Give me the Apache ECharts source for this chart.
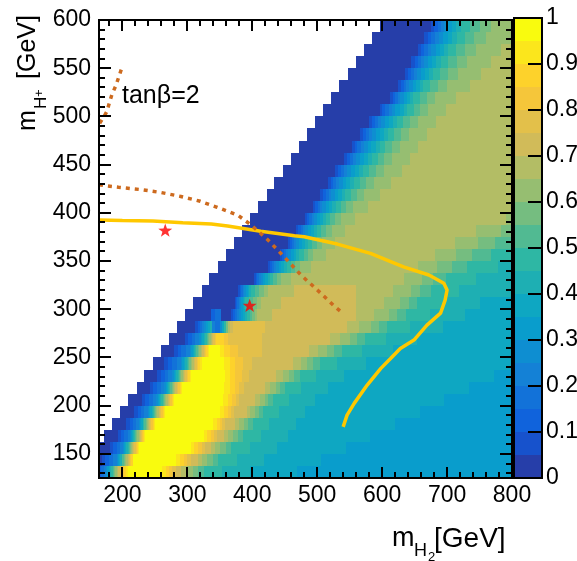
<!DOCTYPE html>
<html><head><meta charset="utf-8">
<script src="https://cdn.jsdelivr.net/npm/echarts@6/dist/echarts.min.js"></script>
<style>html,body{margin:0;padding:0;background:#fff}#c{width:577px;height:561px}</style>
</head><body><div id="c"></div>
<script>
// ---------- axis ranges & tick labels ----------
const X_MIN = 164, X_MAX = 800, Y_MIN = 125, Y_MAX = 600;
const xTicks = [200, 300, 400, 500, 600, 700, 800];
const xMinor = [180,220,240,260,280,320,340,360,380,420,440,460,480,520,540,560,580,620,640,660,680,720,740,760,780];
const yTicks = [150, 200, 250, 300, 350, 400, 450, 500, 550, 600];
const yMinor = [130,140,160,170,180,190,210,220,230,240,260,270,280,290,310,320,330,340,360,370,380,390,410,420,430,440,460,470,480,490,510,520,530,540,560,570,580,590];
const zTicks = [0, 0.1, 0.2, 0.3, 0.4, 0.5, 0.6, 0.7, 0.8, 0.9, 1];

// ---------- heat map, read row by row: [level, x_end, level, x_end, ...]; level -1 = empty ----------
const yEdges = [125,137.5,150,162.5,175,187.5,200,212.5,225,237.5,250,262.5,275,287.5,300,312.5,325,337.5,350,362.5,375,387.5,400,412.5,425,437.5,450,462.5,475,487.5,500,512.5,525,537.5,550,562.5,575,587.5,600];
const cellRows = [
 [2,167,3,172,4,175,5,177,6,179,7,181,8,183,9,185,10,187,11,189,12,191,13,193,14,196,15,199,16,202,17,205,18,208,19,261,18,267,17,272,16,277,15,282,14,290,13,300,12,309,11,317,10,326,9,354,8,396,7,469,6,800],
 [0,169,1,174,2,180,3,185,4,191,5,193,6,195,7,197,8,199,9,200,10,202,11,204,12,206,13,208,14,210,15,212,16,214,17,216,18,217,19,283,18,289,17,295,16,300,15,306,14,316,13,322,12,331,11,339,10,348,9,376,8,418,7,506,6,800],
 [0,181,1,186,2,191,3,196,4,201,5,203,6,204.5,7,206,8,208,9,210,10,211.5,11,213,12,215,13,217,14,218.5,15,220.5,16,222.5,17,224,18,226,19,305,18,311,17,317,16,322,15,327,14,337,13,343,12,351,11,359,10,368,9,396,8,438,7,544,6,800],
 [-1,172,0,194,1,198.6,2,203,3,208,4,212.5,5,214,6,215.5,7,217,8,218.5,9,220,10,221.5,11,223,12,225,13,226.5,14,228,15,230,16,231.5,17,233,18,235,19,325,18,331,17,336,16,341,15,345,14,356,13,362,12,370,11,378,10,386,9,413,8,455,7,582,6,800],
 [-1,184,0,206,1,211,2,216,3,221,4,226,5,227.5,6,229,7,231,8,232.5,9,234,10,236,11,237.5,12,239,13,241,14,243,15,244.5,16,246.5,17,248,18,250,19,339,18,345,17,350,16,354,15,358,14,374,13,380,12,387,11,394,10,401,9,426,8,467,7,620,6,800],
 [-1,197,0,218,1,223.5,2,229,3,234,4,239.5,5,241,6,243,7,245,8,246.5,9,248,10,250,11,252,12,254,13,256,14,258,15,260,16,262,17,264,18,266,19,350,18,357,17,363,16,368,15,372,14,392,13,397,12,404,11,410,10,417,9,441,8,481,7,658,6,800],
 [-1,209,0,230,1,235.5,2,241,3,247,4,252.5,5,254.5,6,256,7,258,8,260,9,262,10,264,11,266,12,267.5,13,269.5,14,271.5,15,274,16,276,17,278,18,280,19,355,18,362,17,369,16,375,15,380,14,405,13,412,12,419,11,425,10,432,9,456,8,496,7,696,6,800],
 [-1,222,0,242,1,247.5,2,253,3,259,4,264.5,5,266.5,6,268,7,270,8,272,9,274,10,276,11,278,12,279.5,13,281.5,14,283.5,15,286,16,288,17,290,18,292,19,357,18,365,17,373,16,380,15,388,14,420,13,428,12,436,11,443,10,451,9,475,8,516,7,734,6,800],
 [-1,234,0,253,1,259,2,265,3,271,4,277,5,279,6,281,7,283,8,285,9,287,10,289,11,291,12,293,13,295,14,297,15,299.5,16,301.5,17,304,18,306,19,358,18,366,17,374,16,384,15,395,14,436,13,447,12,456,11,464,10,473,9,498,8,541,7,772,6,800],
 [-1,247,0,264,1,270.5,2,277,3,283.5,4,290,5,292,6,294.5,7,296.5,8,299,9,301,10,303,11,305,12,307.5,13,310,14,312,15,315,16,317,17,319.5,18,322,19,357,18,365,17,373,16,385,15,400,14,462,13,475,12,485,11,494,10,504,9,530,8,575,7,800],
 [-1,259,0,279,1,285,2,291,3,298,4,304,5,306,6,308,7,310,8,312,9,314,10,316,11,318.5,12,320.5,13,323,14,325,15,327.5,16,329.5,17,332,18,334,19,350,18,357,17,366,16,378,15,415,14,488,13,502,12,515,11,526,10,538,9,569,8,617,7,800],
 [-1,272,0,296,1,301.5,2,307,3,312.5,4,318,5,320.5,6,323,7,325.5,8,328,9,330,10,332,11,334,12,336,13,338,14,340,15,342,16,344,17,356,16,362,15,415,14,520,13,535,12,550,11,561,10,573,9,606,8,654,7,800],
 [-1,284,0,312,1,316,2,320,3,323,4,326,5,329,6,332,7,335,8,338,4,342,3,350,5,353,7,356,9,359,11,362,13,366,14,370,15,420,14,546,13,565,12,583,11,595,10,608,9,643,8,693,7,800],
 [-1,297,0,336,2,343,3,352,0,368,1,371,2,374,3,377,4,380,5,383,6,386,7,389,8,392,9,396,10,400,11,404,12,408,13,430,14,559,13,588,12,610,11,623,10,636,9,674,8,727,7,800],
 [-1,309,0,373,1,375,2,377,3,379,4,381,5,383,6,385,7,387,8,389,9,395,10,401,11,407,12,413,13,444,14,559,13,603,12,628,11,641,10,654,9,695,8,751,7,800],
 [-1,322,0,378,1,380.5,2,383,3,385.5,4,388,5,390.5,6,393,7,395.5,8,398,9,404.5,10,411,11,417.5,12,424,13,465,14,559,13,617,12,644,11,659,10,675,9,718,8,800],
 [-1,334,0,403,1,405.5,2,408,3,410.5,4,413,5,416.5,6,420,7,423.5,8,427,9,432,10,437.5,11,444,12,460,13,633,12,661,11,679,10,699,9,744,8,800],
 [-1,347,0,425,1,428,2,431,3,434,4,437,5,441,6,445,7,449,8,453,9,459,10,465.5,11,473,12,490,13,655,12,685,11,707,10,731,9,779,8,800],
 [-1,359,0,443,1,446,2,449.5,3,452.5,4,455.5,5,460,6,464,7,468,8,472.5,9,479,10,486,11,494,12,513,13,682,12,714,11,739,10,767,9,800],
 [-1,372,0,455,1,458,2,461.5,3,465,4,468,5,472.5,6,477,7,481,8,485.5,9,492,10,499.5,11,508,12,528,13,712,12,747,11,774,10,800],
 [-1,384,0,468,1,471,2,474.5,3,478,4,481.5,5,486,6,490.5,7,495,8,499.5,9,506,10,514,11,523,12,543,13,745,12,783,11,800],
 [-1,397,0,481,1,484.5,2,488,3,491.5,4,495,5,499.5,6,504,7,508.5,8,513,9,520,10,528,11,537,12,558,13,790,12,800],
 [-1,409,0,493,1,497,2,501,3,504.5,4,508,5,513,6,518.5,7,523.5,8,528.5,9,536,10,545,11,555,12,578,13,800],
 [-1,422,0,505,1,509,2,513,3,517.5,4,521.5,5,527,6,532.5,7,538,8,543.5,9,552,10,561,11,572,12,597,13,800],
 [-1,434,0,516,1,520.5,2,525,3,529,4,533.5,5,539.5,6,545,7,551,8,557,9,566,10,575.5,11,587.5,12,614,13,800],
 [-1,447,0,528,1,532.5,2,537,3,542,4,546.5,5,552.5,6,558.5,7,565,8,571,9,580,10,590,11,602.5,12,630,13,800],
 [-1,459,0,541,1,545.5,2,550,3,555,4,559.5,5,565.5,6,571.5,7,578,8,584,9,593,10,603,11,615.5,12,643,13,800],
 [-1,472,0,553,1,557.5,2,562,3,567,4,571.5,5,577.5,6,583.5,7,590,8,596,9,605,10,615,11,627.5,12,655,13,800],
 [-1,484,0,566,1,570.5,2,575,3,580,4,584.5,5,590.5,6,597,7,603,8,609,9,618.5,10,629,11,641,12,669,13,800],
 [-1,497,0,580,1,584.5,2,589,3,594,4,598.5,5,604.5,6,611,7,617,8,623,9,632.5,10,643,11,655,12,683,13,800],
 [-1,509,0,596,1,600.5,2,605,3,610,4,614.5,5,620.5,6,627,7,633,8,639,9,648.5,10,659,11,671,12,699,13,800],
 [-1,522,0,612,1,616,2,620,3,624,4,628,5,633,6,638,7,643,8,648,9,658,10,669,11,682,12,714,13,800],
 [-1,534,0,625,1,629,2,633,3,637.5,4,642,5,647,6,652.5,7,658,8,663.5,9,674,10,686,11,700,12,735,13,800],
 [-1,547,0,635,1,639.5,2,644,3,649,4,654,5,660,6,666,7,672,8,678,9,689,10,702,11,717,12,752,13,800],
 [-1,559,0,645,1,650,2,655,3,660,4,665,5,671,6,677,7,683.5,8,690,9,701.5,10,715,11,731,12,767,13,800],
 [-1,572,0,655,1,660,2,665,3,670.5,4,676,5,682.5,6,689,7,695.5,8,702,9,714,10,728,11,745,12,783,13,800],
 [-1,584,0,665,1,670.5,2,676,3,681.5,4,687,5,694,6,701,7,708,8,715,9,728,10,742,11,760,12,800],
 [-1,597,0,675,1,680,2,686,3,691,4,696,5,702,6,708,7,714.5,8,721,9,735,10,750,11,767,12,800]
];

// ---------- curves & points ----------
const yellowCurve = [[164,392.5],[200,392],[247,391.5],[293,389.7],[337,388.4],[362,386.3],[413,381],[465,376.3],[480,375.2],[531,367.6],[582,358],[633,344],[672,335.5],[695,327],[700,320],[697,309.5],[690,296],[669,283.5],[649,268],[628,259.4],[613,249],[598,238.7],[577,221.4],[557,202.4],[546,190.2],[540,178]];
const orangeUpper = [[165,493],[171,499],[176,505],[180,514],[184,523],[190,532],[195,542],[199,550]];
const orangeLower = [[164,429],[194,426.5],[230,424],[260,421],[290,417],[320,412],[345,406],[378,397.5],[398,387.5],[424,372],[449,354.5],[475,335.5],[505,317],[525,304],[541,295]];
const stars = [[266,382],[396,304]];

// ---------- style ----------
const palette = ['#263ea9','#1752cc','#1063dc','#1272d9','#1481d6','#0e8ed1','#099dcc','#0ea7c2','#1eafb3','#2eb7a4','#51ba92','#75bd80','#96be71','#b3bd65','#d1bb59','#e3c04a','#f5c63a','#fdd22b','#fbe61c','#f9fb0e'];
const FONT = '"Liberation Sans", Arial, Helvetica, sans-serif';
const MAJ_X = 11, MIN_X = 6, MAJ_Y = 12, MIN_Y = 6, MAJ_Z = 14, LW = 2;

const cells = [];
cellRows.forEach((runs, r) => {
  let x0 = X_MIN;
  for (let k = 0; k < runs.length; k += 2) {
    const lv = runs[k], x1 = runs[k + 1];
    if (lv >= 0 && x1 > x0) cells.push([x0, x1, yEdges[r], yEdges[r + 1], lv, (lv + 0.5) / palette.length]);
    x0 = Math.max(x0, x1);
  }
});
const barCells = palette.map((c, i) => [0, 1, i / palette.length, (i + 1) / palette.length, i]);

// tick marks and frame as items [x0, x1, y0, y1, side, length]
const tickItems = [];
xTicks.forEach(v => tickItems.push([v, v, Y_MIN, Y_MIN, 0, MAJ_X], [v, v, Y_MAX, Y_MAX, 1, MAJ_X]));
xMinor.forEach(v => tickItems.push([v, v, Y_MIN, Y_MIN, 0, MIN_X], [v, v, Y_MAX, Y_MAX, 1, MIN_X]));
yTicks.forEach(v => tickItems.push([X_MIN, X_MIN, v, v, 2, MAJ_Y], [X_MAX, X_MAX, v, v, 3, MAJ_Y]));
yMinor.forEach(v => tickItems.push([X_MIN, X_MIN, v, v, 2, MIN_Y], [X_MAX, X_MAX, v, v, 3, MIN_Y]));
tickItems.push([X_MIN, X_MAX, Y_MIN, Y_MIN, 4, 0], [X_MIN, X_MAX, Y_MAX, Y_MAX, 5, 0],
               [X_MIN, X_MIN, Y_MIN, Y_MAX, 6, 0], [X_MAX, X_MAX, Y_MIN, Y_MAX, 7, 0]);
const barTickItems = zTicks.map(v => [1, 1, v, v, 3, MAJ_Z]).concat(
  [[0, 1, 0, 0, 4, 0], [0, 1, 1, 1, 5, 0], [0, 0, 0, 1, 6, 0], [1, 1, 0, 1, 7, 0]]);

function renderRect(params, api) {
  const a = api.coord([api.value(0), api.value(3)]);
  const b = api.coord([api.value(1), api.value(2)]);
  const cs = params.coordSys;
  const x0 = Math.max(Math.round(a[0]), Math.round(cs.x));
  const x1 = Math.min(Math.round(b[0]), Math.round(cs.x + cs.width));
  const y0 = Math.max(Math.round(a[1]), Math.round(cs.y));
  const y1 = Math.min(Math.round(b[1]), Math.round(cs.y + cs.height));
  if (x1 <= x0 || y1 <= y0) return null;
  return { type: 'rect', shape: { x: x0, y: y0, width: x1 - x0, height: y1 - y0 }, style: { fill: palette[api.value(4)] } };
}

// 2-px wide tick / frame boxes, centred on the whole-pixel grid edges
function tickBox(a, side, len, cs) {
  const L = Math.round(cs.x), R = Math.round(cs.x + cs.width), T = Math.round(cs.y), B = Math.round(cs.y + cs.height);
  const cx = Math.round(a[0]), cy = Math.round(a[1]);
  switch (side) {
    case 0: return [cx - 1, B - len, 2, len];
    case 1: return [cx - 1, T, 2, len];
    case 2: return [L, cy - 1, len, 2];
    case 3: return [R - len, cy - 1, len, 2];
    case 4: return [L - 1, B - 1, R - L + 2, 2];
    case 5: return [L - 1, T - 1, R - L + 2, 2];
    case 6: return [L - 1, T - 1, 2, B - T + 2];
    default: return [R - 1, T - 1, 2, B - T + 2];
  }
}
function renderTick(params, api) {
  const a = api.coord([api.value(0), api.value(3)]);
  const s = tickBox(a, api.value(4), api.value(5), params.coordSys);
  return { type: 'rect', shape: { x: s[0], y: s[1], width: s[2], height: s[3] }, style: { fill: '#000' } };
}

function mkAxis(grid, pos, min, max, label, line) {
  const ax = {
    type: 'value', gridIndex: grid, position: pos, min: min, max: max,
    axisLine: { show: line, onZero: false, lineStyle: { color: '#000', width: LW } },
    axisTick: { show: false },
    axisLabel: { show: false },
    splitLine: { show: false }
  };
  if (label) ax.axisLabel = Object.assign({ show: true, color: '#000', fontSize: 23, fontFamily: FONT }, label);
  return ax;
}
function t(x, y, text, size) {
  return { type: 'text', x: x, y: y, z: 20,
    style: { text: text, fill: '#000', font: size + 'px ' + FONT, align: 'left', verticalAlign: 'middle' } };
}
function textGraphics() {
  return [
    t(122, 96, 'tanβ=2', 25),
    // x title  m_{H_2} [GeV]
    t(392, 539, 'm', 27), t(414, 551, 'H', 18), t(428, 557, '2', 13), t(434, 539, '[GeV]', 28),
    // y title  m_{H^+} [GeV], rotated
    { type: 'group', x: 37, y: 131, rotation: Math.PI / 2, z: 20, children: [
      t(0, -9, 'm', 25), t(22, 4, 'H', 17), t(34, 2, '+', 13), t(52, -9, '[GeV]', 25) ] }
  ];
}

const baseSeries = [
  { type: 'custom', name: 'map', xAxisIndex: 0, yAxisIndex: 0, data: cells, renderItem: renderRect,
    encode: { x: [0, 1], y: [2, 3] }, z: 1, progressive: 0, silent: true },
  { type: 'custom', name: 'bar', xAxisIndex: 1, yAxisIndex: 1, data: barCells, renderItem: renderRect,
    encode: { x: [0, 1], y: [2, 3] }, z: 1, silent: true },
  { type: 'line', data: yellowCurve, showSymbol: false, z: 3, silent: true, lineStyle: { color: '#ffc800', width: 3.5 } },
  { type: 'line', data: orangeUpper, showSymbol: false, z: 3, silent: true, lineStyle: { color: '#cd6a1e', width: 3.5, type: [4, 5] } },
  { type: 'line', data: orangeLower, showSymbol: false, z: 3, silent: true, lineStyle: { color: '#cd6a1e', width: 3.5, type: [4, 5] } },
  { type: 'scatter', data: stars, z: 4, silent: true, symbolSize: 14, symbolKeepAspect: true,
    symbol: 'path://M0,-10L2.35,-3.24L9.51,-3.09L3.8,1.24L5.88,8.09L0,4L-5.88,8.09L-3.8,1.24L-9.51,-3.09L-2.35,-3.24Z',
    itemStyle: { color: '#ff0000' } }
];

const option = {
  animation: false,
  backgroundColor: '#fff',
  grid: [
    { left: 99, top: 20, width: 413, height: 458, outerBoundsMode: 'none', containLabel: false,
      show: true, borderColor: '#000', borderWidth: LW, backgroundColor: 'transparent' },
    { left: 514, top: 18, width: 28, height: 460, outerBoundsMode: 'none', containLabel: false,
      show: true, borderColor: '#000', borderWidth: LW, backgroundColor: 'transparent' }
  ],
  xAxis: [
    mkAxis(0, 'bottom', X_MIN, X_MAX, { customValues: xTicks, margin: 6 }, true),
    mkAxis(1, 'bottom', 0, 1, null, true)
  ],
  yAxis: [
    mkAxis(0, 'left', Y_MIN, Y_MAX, { customValues: yTicks, margin: 8 }, true),
    mkAxis(1, 'right', 0, 1, { customValues: zTicks, margin: 4 }, true)
  ],
  series: baseSeries,
  graphic: textGraphics()
};
const chart = echarts.init(document.getElementById('c'), null, { width: 577, height: 561 });
chart.setOption(option);

// ---------- frame + tick marks as one outline per grid, through the grids' scales ----------
try {
  const toPx = (gi, v) => chart.convertToPixel({ gridIndex: gi }, v);
  const outline = (gi, xr, yr, xList, yList, sides) => {
    const p0 = toPx(gi, [xr[0], yr[1]]), p1 = toPx(gi, [xr[1], yr[0]]);
    const L = Math.round(p0[0]), T = Math.round(p0[1]), R = Math.round(p1[0]), B = Math.round(p1[1]);
    const xs = xList.map(d => [Math.round(toPx(gi, [d[0], yr[0]])[0]), d[1]]).sort((a, b) => a[0] - b[0]);
    const ys = yList.map(d => [Math.round(toPx(gi, [xr[0], d[0]])[1]), d[1]]).sort((a, b) => a[0] - b[0]);
    const pts = [[L, B]];
    if (sides.indexOf('b') >= 0) xs.forEach(d => pts.push([d[0], B], [d[0], B - d[1]], [d[0], B]));
    pts.push([R, B]);
    if (sides.indexOf('r') >= 0) ys.slice().reverse().forEach(d => pts.push([R, d[0]], [R - d[1], d[0]], [R, d[0]]));
    pts.push([R, T]);
    if (sides.indexOf('t') >= 0) xs.slice().reverse().forEach(d => pts.push([d[0], T], [d[0], T + d[1]], [d[0], T]));
    pts.push([L, T]);
    if (sides.indexOf('l') >= 0) ys.forEach(d => pts.push([L, d[0]], [L + d[1], d[0]], [L, d[0]]));
    pts.push([L, B]);
    return { type: 'polyline', z: 30, shape: { points: pts },
      style: { stroke: '#000', lineWidth: LW, fill: null, lineJoin: 'miter', lineCap: 'square' } };
  };
  const mainX = xTicks.map(v => [v, MAJ_X]).concat(xMinor.map(v => [v, MIN_X]));
  const mainY = yTicks.map(v => [v, MAJ_Y]).concat(yMinor.map(v => [v, MIN_Y]));
  const barY = zTicks.map(v => [v, MAJ_Z]);
  chart.setOption({ graphic: textGraphics().concat([
    outline(0, [X_MIN, X_MAX], [Y_MIN, Y_MAX], mainX, mainY, 'btlr'),
    outline(1, [0, 1], [0, 1], [], barY, 'r')
  ]) });
} catch (e) { /* keep the chart as drawn */ }

// ---------- the same ticks again as a series on the axes (same pixels) ----------
try {
  chart.setOption({ series: baseSeries.concat([
    { type: 'custom', name: 'ticks', xAxisIndex: 0, yAxisIndex: 0, data: tickItems, renderItem: renderTick,
      encode: { x: [0, 1], y: [2, 3] }, z: 5, progressive: 0, silent: true },
    { type: 'custom', name: 'barTicks', xAxisIndex: 1, yAxisIndex: 1, data: barTickItems, renderItem: renderTick,
      encode: { x: [0, 1], y: [2, 3] }, z: 5, silent: true }
  ]) });
} catch (e) { /* keep the chart as drawn */ }
</script>
</body></html>
